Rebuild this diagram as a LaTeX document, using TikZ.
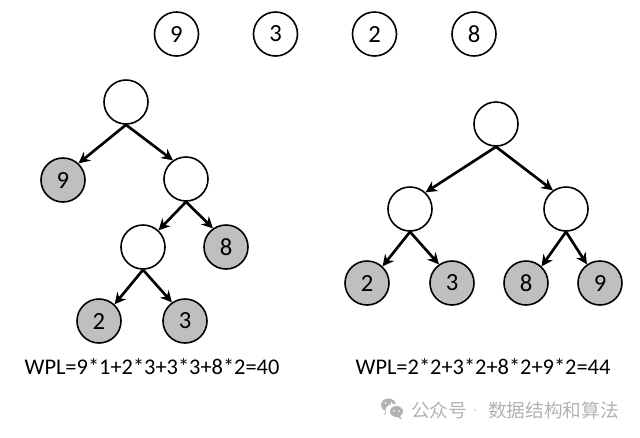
\documentclass[tikz,border=0pt]{standalone}
\usepackage{fontspec}
\setmainfont{Carlito}
\newfontfamily\cjk{Noto Sans CJK SC}
\usetikzlibrary{arrows.meta}
\definecolor{leafgray}{RGB}{191,191,191}
\definecolor{wmgray}{RGB}{178,178,178}
\tikzset{
 x=0.75pt,y=-0.75pt,
 nd/.style={circle,draw=black,line width=1.2pt,minimum size=33pt,inner sep=0pt,font=\fontsize{18.5}{20}\selectfont,text=black},
 leaf/.style={nd,fill=leafgray},
 conn/.style={line width=2pt,-{Stealth[length=8.5pt,width=8.5pt]}},
 captxt/.style={font=\fontsize{16.8}{20}\selectfont,text=black},
 wmtxt/.style={font=\cjk\fontsize{14}{16}\selectfont,text=wmgray,inner sep=0pt},
}
\begin{document}
\begin{tikzpicture}
\useasboundingbox (0,0) rectangle (640,437);
\node[nd] (t9) at (176.5,34) {9};
\node[nd] (t3) at (275.5,34) {3};
\node[nd] (t2) at (374.5,34) {2};
\node[nd] (t8) at (474,34) {8};
% left tree
\node[nd] (a) at (126,102) {};
\node[leaf] (a9) at (63,180) {9};
\node[nd] (b) at (186,179) {};
\node[nd] (c) at (143,247) {};
\node[leaf] (a8) at (226,247) {8};
\node[leaf] (a2) at (99,321) {2};
\node[leaf] (a3) at (185,321) {3};
\draw[conn] (a.south) -- (a9.47);
\draw[conn] (a.south) -- (b.125);
\draw[conn] (b.south) -- (c.47);
\draw[conn] (b.south) -- (a8.125);
\draw[conn] (c.south) -- (a2.47);
\draw[conn] (c.south) -- (a3.125);
% right tree
\node[nd] (r) at (496,124) {};
\node[nd] (p) at (410,209) {};
\node[nd] (q) at (566,209) {};
\node[leaf] (r2) at (367,283) {2};
\node[leaf] (r3) at (452,283) {3};
\node[leaf] (r8) at (526,283) {8};
\node[leaf] (r9) at (600,283) {9};
\draw[conn] (r.south) -- (p.47);
\draw[conn] (r.south) -- (q.125);
\draw[conn] (p.south) -- (r2.47);
\draw[conn] (p.south) -- (r3.125);
\draw[conn] (q.south) -- (r8.47);
\draw[conn] (q.south) -- (r9.125);
\node[captxt] (w1) at (152,367) {WPL=9*1+2*3+3*3+8*2=40};
\node[captxt] (w2) at (483,367) {WPL=2*2+3*2+8*2+9*2=44};
% watermark
\fill[wmgray] (388.5,405) ellipse [x radius=7.5,y radius=6.5];
\fill[wmgray] (386,411) -- (384,415) -- (390,411) -- cycle;
\fill[white] (393,410.5) ellipse [x radius=7.5,y radius=6.5];
\fill[wmgray] (396.5,411.5) ellipse [x radius=6.5,y radius=5.5];
\fill[wmgray] (400,416) -- (402,419.5) -- (396,416.5) -- cycle;
\fill[white] (385.5,403) circle (1) (391.5,403) circle (1) (394,411) circle (.9) (399,411) circle (.9);
\node[wmtxt,anchor=west] (wm1) at (411,410) {公众号};
\fill[wmgray] (475,410) circle (0.9);
\node[wmtxt,anchor=east] (wm2) at (619,410) {数据结构和算法};
\end{tikzpicture}
\end{document}
